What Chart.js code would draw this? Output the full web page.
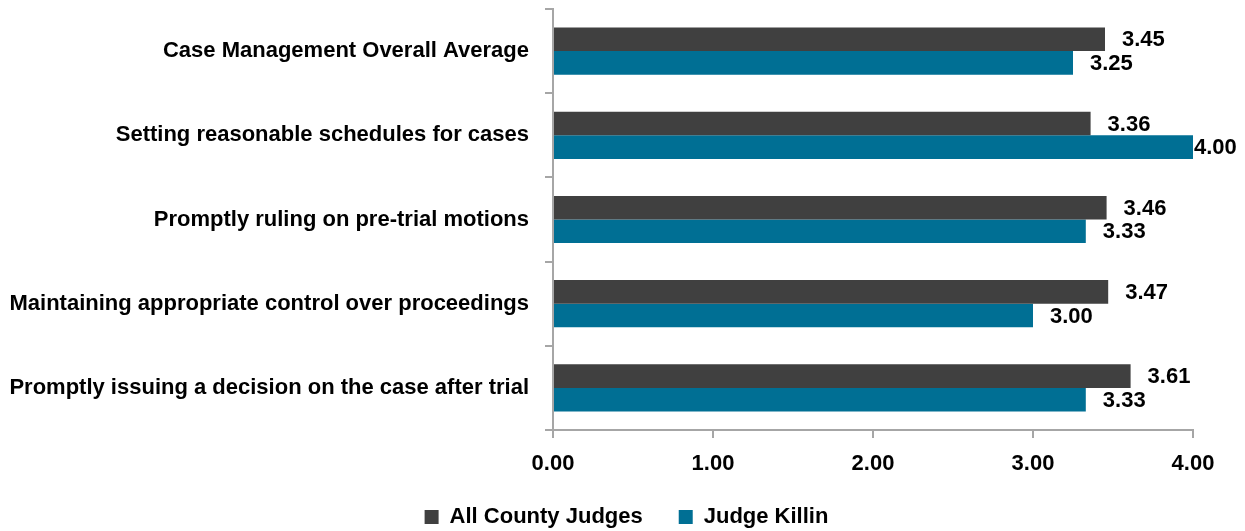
<!DOCTYPE html>
<html>
<head>
<meta charset="utf-8">
<script src="https://cdn.jsdelivr.net/npm/chart.js@4/dist/chart.umd.min.js"></script>
<style>
html,body{margin:0;padding:0;background:#fff;}
#wrap{width:1245px;height:531px;position:relative;}
</style>
</head>
<body>
<div id="wrap"><canvas id="c" width="1245" height="531"></canvas></div>
<script>
const categories = [
  "Case Management Overall Average",
  "Setting reasonable schedules for cases",
  "Promptly ruling on pre-trial motions",
  "Maintaining appropriate control over proceedings",
  "Promptly issuing a decision on the case after trial"
];
const allCountyJudges = [3.45, 3.36, 3.46, 3.47, 3.61];
const judgeKillin = [3.25, 4.00, 3.33, 3.00, 3.33];
const seriesNames = ["All County Judges", "Judge Killin"];
const xTicks = [0, 1, 2, 3, 4];

const FONT = "'Liberation Sans Narrow', 'Arial Narrow', 'Liberation Sans', Arial, sans-serif";
const colDark = '#404040';
const colBlue = '#006f94';
const axisCol = '#a6a6a6';

const valueLabels = {
  id: 'valueLabels',
  afterLayout(chart) {
    if (chart.legend) { chart.legend.left += 30; chart.legend.right += 30; }
  },
  afterDatasetsDraw(chart) {
    const ctx = chart.ctx;
    ctx.save();
    ctx.font = 'bold 22px ' + FONT;
    ctx.fillStyle = '#000';
    ctx.textBaseline = 'middle';
    ctx.textAlign = 'left';
    chart.data.datasets.forEach((ds, di) => {
      const meta = chart.getDatasetMeta(di);
      meta.data.forEach((bar, i) => {
        const txt = ds.data[i].toFixed(2);
        const w = ctx.measureText(txt).width;
        let x = bar.x + 17;
        const maxX = chart.width - 8 - w;
        if (x > maxX) x = bar.x + 1;
        ctx.fillText(txt, x, bar.y + 1);
      });
    });
    ctx.restore();
  }
};

new Chart(document.getElementById('c'), {
  type: 'bar',
  data: {
    labels: categories,
    datasets: [
      { label: seriesNames[0], data: allCountyJudges, backgroundColor: colDark, borderWidth: 0 },
      { label: seriesNames[1], data: judgeKillin, backgroundColor: colBlue, borderWidth: 0 }
    ]
  },
  options: {
    indexAxis: 'y',
    responsive: false,
    animation: false,
    devicePixelRatio: 1,
    layout: { padding: { top: 9, right: 52, left: 0, bottom: -7 } },
    datasets: { bar: { barPercentage: 1.0, categoryPercentage: 0.56 } },
    plugins: {
      legend: {
        position: 'bottom',
        labels: {
          font: { family: FONT, size: 22, weight: 'bold' },
          color: '#000',
          boxWidth: 14,
          boxHeight: 14,
          padding: 36,
          useBorderRadius: false
        }
      },
      tooltip: { enabled: false }
    },
    scales: {
      x: {
        min: 0, max: 4,
        afterBuildTicks(scale) { scale.ticks = xTicks.map(v => ({ value: v })); },
        ticks: {
          callback: v => Number(v).toFixed(2),
          font: { family: FONT, size: 22, weight: 'bold' },
          color: '#000',
          padding: 13,
          maxRotation: 0
        },
        grid: { display: true, drawOnChartArea: false, drawTicks: true, tickLength: 8, color: axisCol, lineWidth: 2 },
        border: { display: true, color: axisCol, width: 2 },
        afterFit(scale) { scale.height = 40; scale.paddingLeft = 0; scale.paddingRight = 0; }
      },
      y: {
        ticks: {
          font: { family: FONT, size: 22, weight: 'bold' },
          color: '#000',
          padding: 16
        },
        grid: { display: true, drawOnChartArea: false, drawTicks: true, tickLength: 8, color: axisCol, lineWidth: 2, offset: true },
        border: { display: true, color: axisCol, width: 2 },
        afterFit(scale) { scale.width = 553; scale.paddingTop = 0; scale.paddingBottom = 0; }
      }
    }
  },
  plugins: [valueLabels]
});
</script>
</body>
</html>
